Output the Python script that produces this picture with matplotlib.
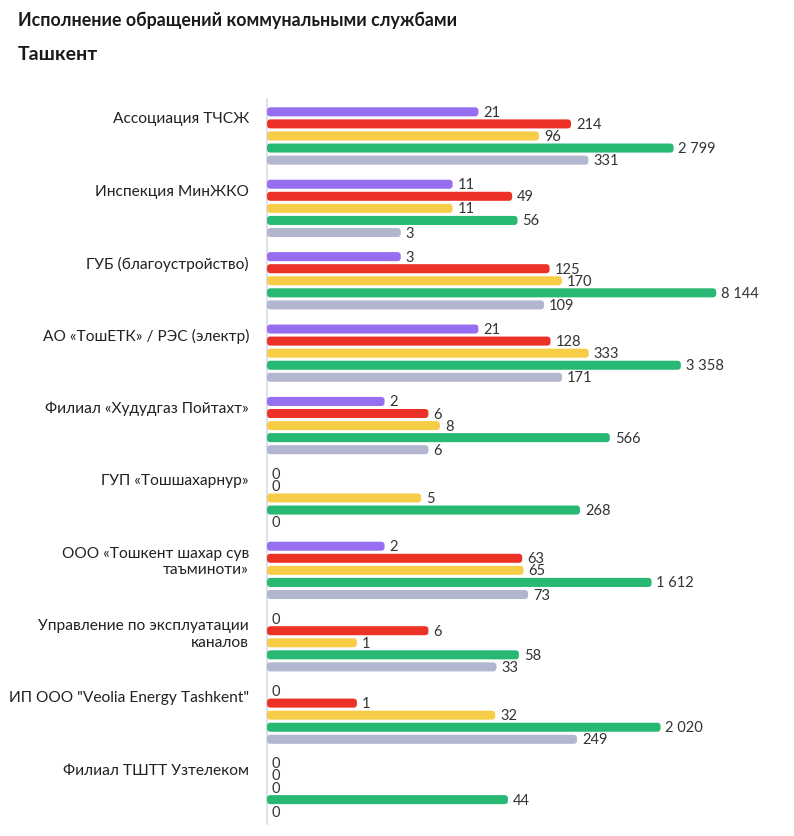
import matplotlib.pyplot as plt
from matplotlib.patches import FancyBboxPatch
from matplotlib.transforms import IdentityTransform

plt.rcParams["font.family"] = ["Lato", "DejaVu Sans"]

categories = [
    "Ассоциация ТЧСЖ",
    "Инспекция МинЖКО",
    "ГУБ (благоустройство)",
    "АО «ТошЕТК» / РЭС (электр)",
    "Филиал «Худудгаз Пойтахт»",
    "ГУП «Тошшахарнур»",
    "ООО «Тошкент шахар сув\nтаъминоти»",
    "Управление по эксплуатации\nканалов",
    "ИП ООО \"Veolia Energy Tashkent\"",
    "Филиал ТШТТ Узтелеком",
]

s1 = [21, 11, 3, 21, 2, 0, 2, 0, 0, 0]
s2 = [214, 49, 125, 128, 6, 0, 63, 6, 1, 0]
s3 = [96, 11, 170, 333, 8, 5, 65, 1, 32, 0]
s4 = [2799, 56, 8144, 3358, 566, 268, 1612, 58, 2020, 44]
s5 = [331, 3, 109, 171, 6, 0, 73, 33, 249, 0]

series = [s1, s2, s3, s4, s5]
colors = ["#966EF0", "#EC3226", "#F7CD48", "#27B873", "#B2B7CF"]

xmin, xmax = 0.105, 4e4
bar_h = 0.125

fig = plt.figure(figsize=(7.94, 8.37), dpi=100)
ax = fig.add_axes([0.3363, 0.0143, 0.982 - 0.3363, 0.8805 - 0.0143])
ax.set_xscale("log")
ax.set_xlim(xmin, xmax)
ax.set_ylim(9.837, -0.177)

for j, (vals, c) in enumerate(zip(series, colors)):
    for i, v in enumerate(vals):
        y = i + j / 6
        if v > 0:
            # rounded bar, drawn in pixel space from data coords
            (x0, y0), (x1, y1) = ax.transData.transform([(xmin, y + bar_h / 2), (v, y - bar_h / 2)])
            p = FancyBboxPatch((x0, y0), x1 - x0, y1 - y0,
                               boxstyle="round,pad=0,rounding_size=3.5",
                               facecolor=c, edgecolor="none", transform=IdentityTransform())
            fig.add_artist(p)
        lab = f"{v:,}".replace(",", " ")
        ax.annotate(lab, (max(v, xmin), y), xytext=(3.5, 0), textcoords="offset points",
                    va="center", ha="left", fontsize=10.5, color="#333333")

for i, name in enumerate(categories):
    ax.text(-0.035, i - 0.01, name, transform=ax.get_yaxis_transform(),
            ha="right", va="top", fontsize=11.2, color="#222222", linespacing=1.25)

for s in ["top", "right", "bottom"]:
    ax.spines[s].set_visible(False)
ax.spines["left"].set_color("#D8DCE8")
ax.spines["left"].set_linewidth(1.2)
ax.set_xticks([])
ax.set_xticks([], minor=True)
ax.set_yticks([])

fig.text(18 / 794, 1 - 20 / 837, "Исполнение обращений коммунальными службами",
         fontsize=12.8, fontweight="bold", color="#1a1a1a", va="center", ha="left")
fig.text(18 / 794, 1 - 54 / 837, "Ташкент",
         fontsize=14, fontweight="bold", color="#1a1a1a", va="center", ha="left")

fig.savefig("out.png", dpi=100, facecolor="white")
